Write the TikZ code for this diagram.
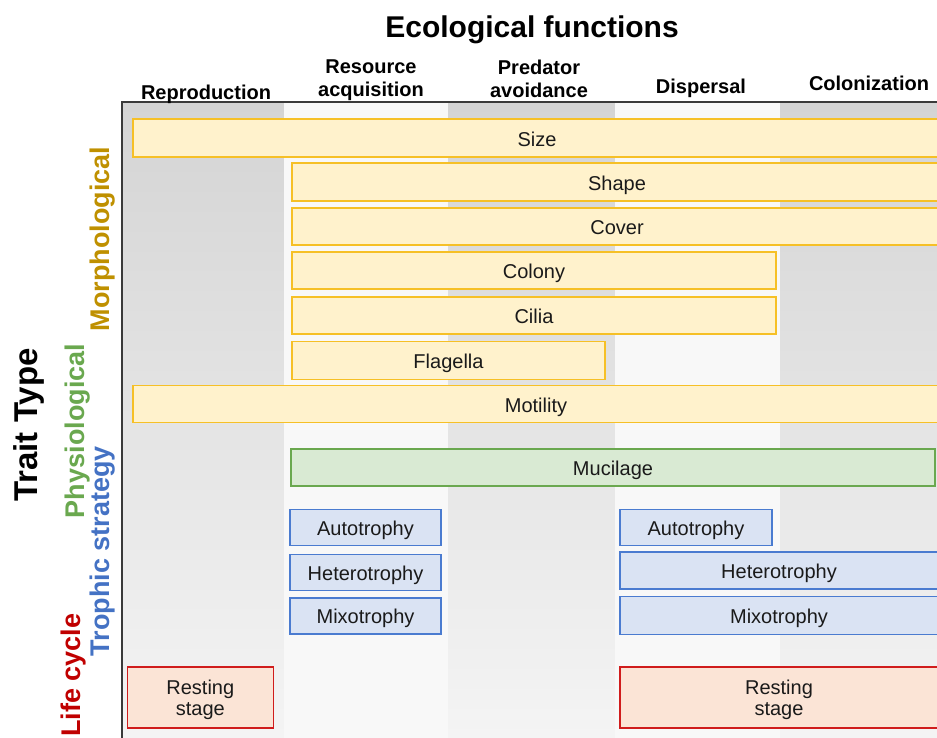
\documentclass[tikz,border=0pt]{standalone}
\usepackage{fontspec}
\setmainfont{Liberation Sans}
\usepackage{xcolor}
\definecolor{ink}{HTML}{1A1A1A}
\definecolor{frameline}{HTML}{3A3A3A}
\definecolor{coldark}{HTML}{D4D4D4}
\definecolor{colfade}{HTML}{F4F4F4}
\definecolor{collight}{HTML}{F8F8F8}
\definecolor{morphfill}{HTML}{FFF2CC}
\definecolor{morphline}{HTML}{F6C026}
\definecolor{morphtext}{HTML}{BF9000}
\definecolor{physfill}{HTML}{D9EAD3}
\definecolor{physline}{HTML}{6AA84F}
\definecolor{trophfill}{HTML}{DAE3F3}
\definecolor{trophline}{HTML}{4A7BD0}
\definecolor{trophtext}{HTML}{4472C4}
\definecolor{lifefill}{HTML}{FBE4D6}
\definecolor{lifeline}{HTML}{D01C1C}
\definecolor{lifetext}{HTML}{C00000}
\tikzset{
  trait/.style={draw, line width=1.6pt, inner sep=0pt, text=ink, align=center,
    text height=16.4pt, text depth=0pt, font=\fontsize{20}{20.7}\selectfont},
  morph/.style={trait, draw=morphline, fill=morphfill},
  phys/.style={trait, draw=physline, fill=physfill},
  troph/.style={trait, draw=trophline, fill=trophfill},
  life/.style={trait, draw=lifeline, fill=lifefill, text height=35.6pt, text depth=0pt},
  head/.style={text=black, align=center, font=\bfseries\fontsize{20}{23}\selectfont},
  side/.style={rotate=90, font=\bfseries\fontsize{27}{30}\selectfont},
  frame/.style={draw=frameline, line width=1.4pt},
  darkcol/.style={top color=coldark, bottom color=colfade, draw=none},
}

\begin{document}
\begin{tikzpicture}[x=1pt, y=-1pt]
  \useasboundingbox (0,0) rectangle (937,738);
  \clip (0,0) rectangle (937,738);
  % column bands
  \fill[darkcol] (122,102) rectangle (284,738);
  \fill[collight] (284,102) rectangle (448,738);
  \fill[darkcol] (448,102) rectangle (615,738);
  \fill[collight] (615,102) rectangle (780,738);
  \fill[darkcol] (780,102) rectangle (937,738);
  \draw[frame] (122,738) -- (122,102) -- (937,102);

  % headers
  \node[font=\bfseries\fontsize{30}{34}\selectfont] (title) at (532,30) {Ecological functions};
  \node[head] (repro) at (206,94.5) {Reproduction};
  \node[head] (resource) at (371,80) {Resource\\acquisition};
  \node[head] (predator) at (539,78.5) {Predator\\avoidance};
  \node[head] (dispersal) at (701,88) {Dispersal};
  \node[head] (colon) at (869,83) {Colonization};

  % trait types
  \node[side, font=\bfseries\fontsize{33}{36}\selectfont] (traittype) at (29,425) {Trait Type};
  \node[side, text=morphtext] (morphlab) at (103,239) {Morphological};
  \node[side, text=physline] (physlab) at (78,431) {Physiological};
  \node[side, text=trophtext] (trophlab) at (103,551) {Trophic strategy};
  \node[side, text=lifetext] (lifelab) at (74,675) {Life cycle};

  % morphological
  \node[morph, minimum width=808pt, minimum height=38pt] (size) at (537,138) {Size};
  \node[morph, minimum width=650pt, minimum height=38pt] (shape) at (617,182) {Shape};
  \node[morph, minimum width=650pt, minimum height=37pt] (cover) at (617,226.5) {Cover};
  \node[morph, minimum width=484pt, minimum height=37pt] (colony) at (534,270.5) {Colony};
  \node[morph, minimum width=484pt, minimum height=37pt] (cilia) at (534,315.5) {Cilia};
  \node[morph, minimum width=313pt, minimum height=38pt] (flagella) at (448.5,360.5) {Flagella};
  \node[morph, minimum width=806pt, minimum height=37pt] (motility) at (536,404) {Motility};

  % physiological
  \node[phys, minimum width=644pt, minimum height=37pt] (mucilage) at (613,467.5) {Mucilage};

  % trophic strategy
  \node[troph, minimum width=151pt, minimum height=36pt] (autoA) at (365.5,527.3) {Autotrophy};
  \node[troph, minimum width=151pt, minimum height=36pt] (heteroA) at (365.5,572.5) {Heterotrophy};
  \node[troph, minimum width=151pt, minimum height=36pt] (mixoA) at (365.5,615.7) {Mixotrophy};
  \node[troph, minimum width=152pt, minimum height=36pt] (autoB) at (696,527.3) {Autotrophy};
  \node[troph, minimum width=318pt, minimum height=37pt] (heteroB) at (779,570.3) {Heterotrophy};
  \node[troph, minimum width=318pt, minimum height=38pt] (mixoB) at (779,615.3) {Mixotrophy};

  % life cycle
  \node[life, minimum width=146pt, minimum height=61pt] (restA) at (200.3,697.2) {Resting\\stage};
  \node[life, minimum width=318pt, minimum height=61pt] (restB) at (779,697.2) {Resting\\stage};
\end{tikzpicture}
\end{document}
